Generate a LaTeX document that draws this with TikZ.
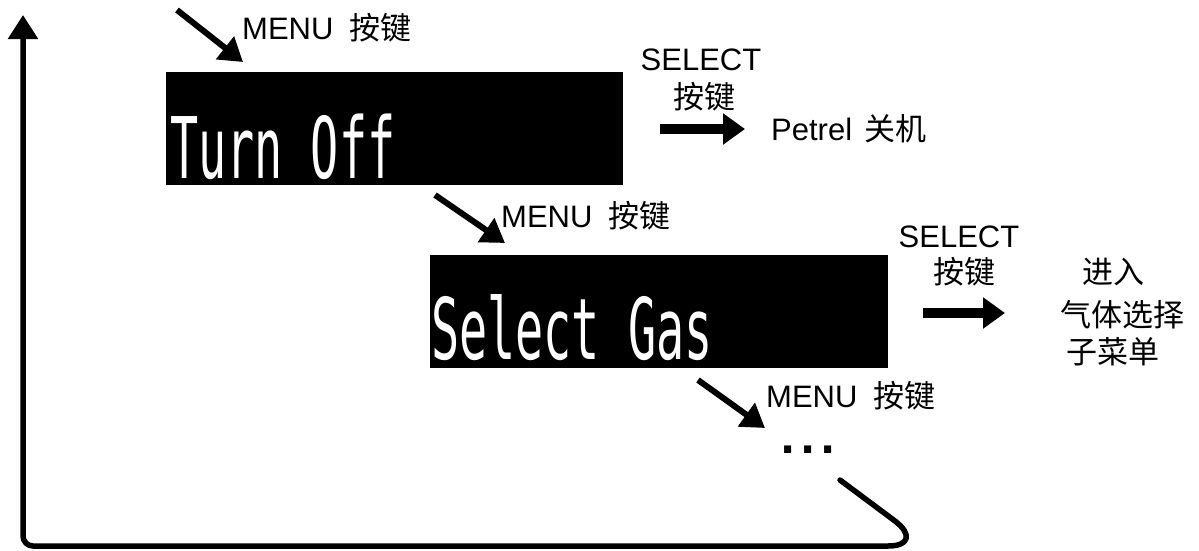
\documentclass[tikz,border=0pt]{standalone}
\usepackage{fontspec}
\usepackage{graphicx}
\setmainfont{Liberation Sans}
\newfontfamily\cjk{Noto Sans CJK SC}
\newfontfamily\lcd{DejaVu Sans Mono}
\newfontfamily\dotfont{DejaVu Sans}
\usetikzlibrary{arrows.meta}
\begin{document}
\begin{tikzpicture}[x=1pt,y=-1pt,
  lbl/.style={font=\fontsize{31}{36}\selectfont, inner sep=0pt},
  cjklbl/.style={font=\cjk\fontsize{31}{36}\selectfont, inner sep=0pt},
  lcdbox/.style={fill=black, draw=none, inner sep=0pt, anchor=north west},
  lcdtext/.style={text=white, font=\lcd\fontsize{85}{85}\selectfont, inner sep=0pt, anchor=base west},
  menuarrow/.style={line width=6pt, -{Triangle[length=23pt,width=28pt]}},
  selarrow/.style={line width=10pt, -{Triangle[length=22pt,width=30pt]}},
  loopline/.style={line width=5.5pt, line join=round, line cap=round, -{Triangle[length=24pt,width=29pt]}}]
\useasboundingbox (0,0) rectangle (1199,550);

% display boxes
\node[lcdbox, minimum width=457pt, minimum height=113pt] (box1) at (166,72) {};
\node[lcdtext] (txt1) at (170,178) {\scalebox{0.55}[1]{Turn Off}};
\node[lcdbox, minimum width=458pt, minimum height=113pt] (box2) at (430,255) {};
\node[lcdtext] (txt2) at (431,359) {\scalebox{0.55}[1]{Select Gas}};

% labels
\node[lbl, anchor=base west] (menu1) at (242,39) {MENU\hspace{16pt}{\cjk 按键}};
\node[lbl, anchor=base west] (menu2) at (501,227) {MENU\hspace{16pt}{\cjk 按键}};
\node[lbl, anchor=base west] (menu3) at (766,407) {MENU\hspace{16pt}{\cjk 按键}};
\node[lbl, anchor=base] (sel1) at (701,70) {SELECT};
\node[cjklbl] (key1) at (704,97) {按键};
\node[lbl, anchor=base west] (petrel) at (771,140) {Petrel\hspace{12pt}{\cjk 关机}};
\node[lbl, anchor=base] (sel2) at (959,247) {SELECT};
\node[cjklbl] (key2) at (964,272) {按键};
\node[cjklbl] (enter) at (1113,272) {进入};
\node[cjklbl] (gas) at (1122,315) {气体选择};
\node[cjklbl] (submenu) at (1113,352) {子菜单};
\node[inner sep=0pt, anchor=base west, font=\dotfont\bfseries\fontsize{40}{40}\selectfont] (dots) at (780,453) {.\hspace{5pt}.\hspace{5pt}.};

% MENU arrows
\coordinate (m1a) at (177,10); \coordinate (m1b) at (243,62);
\coordinate (m2a) at (435,195); \coordinate (m2b) at (505,243);
\coordinate (m3a) at (698,380); \coordinate (m3b) at (765,428);
\draw[menuarrow] (m1a) -- (m1b);
\draw[menuarrow] (m2a) -- (m2b);
\draw[menuarrow] (m3a) -- (m3b);

% SELECT arrows
\coordinate (s1a) at (660,129); \coordinate (s1b) at (745,129);
\coordinate (s2a) at (923,313); \coordinate (s2b) at (1005,313);
\draw[selarrow] (s1a) -- (s1b);
\draw[selarrow] (s2a) -- (s2b);

% return loop
\coordinate (ls) at (840,480);
\coordinate (lc) at (23,546);
\coordinate (lt) at (23,15);
\draw[loopline] (ls) -- (895,521) .. controls (912,534) and (910,546) .. (888,546) [rounded corners=10pt] -- (lc) -- (lt);
\end{tikzpicture}
\end{document}
